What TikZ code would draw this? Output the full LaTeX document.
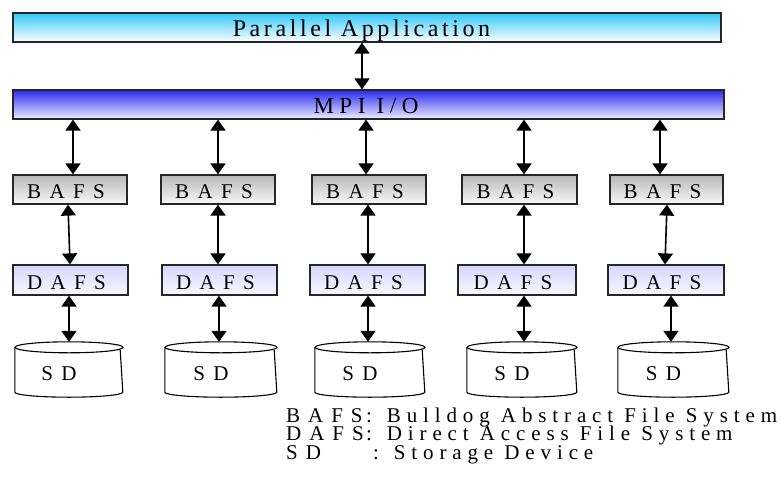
\documentclass[tikz,border=0pt]{standalone}
\usepackage{fontspec}
\setmainfont{Liberation Serif}
\newfontfamily\boxfont[LetterSpace=40]{Liberation Serif}
\newfontfamily\legfont[LetterSpace=28]{Liberation Serif}
\newfontfamily\leglabfont[LetterSpace=38]{Liberation Serif}
\newfontfamily\topfont[LetterSpace=15]{Liberation Serif}
\newfontfamily\mpifont[LetterSpace=24]{Liberation Serif}
\usetikzlibrary{arrows.meta,calc}
\definecolor{cyanT}{HTML}{33C8F8}
\definecolor{blueT}{HTML}{2A2AF0}
\definecolor{blueB}{HTML}{EEEEFF}
\definecolor{grayT}{HTML}{B8B8B8}
\definecolor{grayB}{HTML}{F8F8F8}
\definecolor{lavT}{HTML}{D6D6FF}
\definecolor{lavB}{HTML}{F8F8FF}
\tikzset{
  bar/.style={draw=black!85, line width=1.2pt, minimum height=29pt, inner sep=0pt,
    text height=17pt, text depth=0pt},
  boxbase/.style={draw=black!85, line width=1.2pt, inner sep=0pt, text depth=0pt,
    font=\boxfont\fontsize{21}{21}\selectfont},
  bafsbox/.style={boxbase, top color=grayT, bottom color=grayB, minimum height=29pt, text height=17pt},
  dafsbox/.style={boxbase, top color=lavT, bottom color=lavB, minimum height=30pt, text height=18pt},
  sdnode/.style={inner sep=0pt, minimum height=55pt, text height=21pt, text depth=0pt,
    font=\boxfont\fontsize{21}{21}\selectfont},
  cyl/.style={line width=1.1pt, draw=black},
  arr/.style={line width=1.6pt, {Triangle[width=15pt,length=11pt]}-{Triangle[width=15pt,length=11pt]}},
  leg/.style={inner sep=0pt, anchor=base west, text height=13.5pt, text depth=4pt,
    font=\legfont\fontsize{21}{21}\selectfont},
  leglab/.style={leg, font=\leglabfont\fontsize{21}{21}\selectfont}
}
\begin{document}
\begin{tikzpicture}[x=1pt,y=-1pt]
\useasboundingbox (0,0) rectangle (781,482);
\node[bar, top color=cyanT, bottom color=white, minimum width=708pt,
  font=\topfont\fontsize{24}{24}\selectfont] (pa) at (367,27.5) {Parallel Application\hspace{11pt}\null};
\node[bar, top color=blueT, bottom color=blueB, minimum width=711pt,
  font=\mpifont\fontsize{23}{23}\selectfont] (mpi) at (368.5,104.5) {MPI I/O\hspace{5pt}\null};
% BAFS boxes
\foreach \n/\cx/\w in {1/70/114, 2/218/114, 3/369/114, 4/519.5/115, 5/666.5/113}
  \node[bafsbox, minimum width=\w pt] (b\n) at (\cx,189.5) {BAFS\hspace{8pt}\null};
% DAFS boxes
\foreach \n/\cx/\w in {1/70.5/115, 2/219.5/115, 3/367.5/115, 4/517/118, 5/666/116}
  \node[dafsbox, minimum width=\w pt] (d\n) at (\cx,280) {DAFS\hspace{8pt}\null};
% SD cylinders
\foreach \n/\cx/\w in {1/69/108, 2/221/112, 3/370/110, 4/522/110, 5/673.5/111}{
  \node[sdnode, minimum width=\w pt] (s\n) at (\cx,369.5) {SD\hspace{20pt}\null};
  \draw[cyl] ($(s\n.north)+(0,5.5)$) ellipse [x radius=\w/2 pt, y radius=5.5pt];
  \draw[cyl] ($(s\n.north west)+(0,5.5)$) -- ($(s\n.south west)+(0,-5)$)
     arc[start angle=180, end angle=360, x radius=\w/2 pt, y radius=5pt]
     -- ($(s\n.north east)+(-3,8)$);
}
% arrows
\coordinate (c0) at (362,0);
\draw[arr] (pa.south -| c0) -- (mpi.north -| c0);
\foreach \n/\x in {1/73, 2/218, 3/366, 4/524, 5/660}{
  \coordinate (m\n) at (\x,0);
  \draw[arr] (mpi.south -| m\n) -- (b\n.north -| m\n);
}
\foreach \n/\xa/\xb in {1/68/70, 2/218/218, 3/368/368, 4/524/524, 5/667/665}{
  \coordinate (ta\n) at (\xa,0);
  \coordinate (tb\n) at (\xb,0);
  \draw[arr] (b\n.south -| ta\n) -- (d\n.north -| tb\n);
}
\foreach \n/\x in {1/69, 2/219, 3/368, 4/524, 5/671}{
  \coordinate (u\n) at (\x,0);
  \draw[arr] (d\n.south -| u\n) -- (s\n.north -| u\n);
}
% legend
\node[leglab] (l1) at (286,422) {BAFS};
\node[leg] (l1d) at (366,422) {: Bulldog Abstract File System};
\node[leglab] (l2) at (286,440.5) {DAFS};
\node[leg] (l2d) at (366,440.5) {: Direct Access File System};
\node[leglab] (l3) at (286,459) {SD};
\node[leg] (l3d) at (373,459) {: Storage Device};
\end{tikzpicture}
\end{document}
